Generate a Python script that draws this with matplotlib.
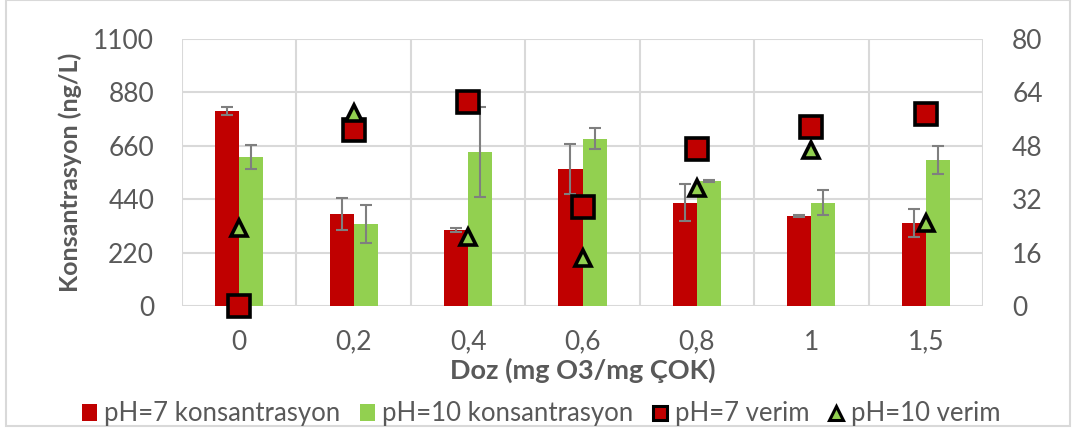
import matplotlib
matplotlib.use("Agg")
import matplotlib.pyplot as plt
import numpy as np
from matplotlib.lines import Line2D
from matplotlib.patches import Patch, Rectangle

categories = ["0", "0,2", "0,4", "0,6", "0,8", "1", "1,5"]
ph7_conc = [803, 378, 312, 563, 426, 371, 341]
ph7_err = [16, 65, 8, 103, 76, 3, 58]
ph10_conc = [613, 338, 633, 689, 515, 426, 600]
ph10_err = [50, 77, 185, 44, 3, 52, 58]
ph7_yield = [0, 52.7, 61, 29.6, 47, 53.7, 57.4]
ph10_yield = [23.3, 57.7, 20.8, 14.3, 35.3, 46.7, 24.8]
left_ticks = [0, 220, 440, 660, 880, 1100]
right_ticks = [0, 16, 32, 48, 64, 80]

plt.rcParams['font.family'] = ['Lato', 'DejaVu Sans']
RED = "#c00000"
GREEN = "#92d050"
GRID = "#d9d9d9"
TXT = "#595959"

fig = plt.figure(figsize=(10.77, 4.32), dpi=100)
ax = fig.add_axes([182/1077, 1-306/432, (983-182)/1077, (306-39)/432])
x = np.arange(len(categories))
w = 0.21
ax.bar(x - w/2, ph7_conc, w, color=RED, zorder=2, label="pH=7 konsantrasyon")
ax.bar(x + w/2, ph10_conc, w, color=GREEN, zorder=2, label="pH=10 konsantrasyon")
ax.errorbar(x - w/2, ph7_conc, yerr=ph7_err, fmt='none', ecolor="#7f7f7f", elinewidth=1.5, capsize=4, capthick=1.5, zorder=3)
ax.errorbar(x + w/2, ph10_conc, yerr=ph10_err, fmt='none', ecolor="#7f7f7f", elinewidth=1.5, capsize=4, capthick=1.5, zorder=3)
ax.set_xlim(-0.5, len(categories) - 0.5)
ax.set_ylim(0, 1100)
ax.set_yticks(left_ticks)
ax.set_xticks(x)
ax.set_xticklabels(categories)
ax.set_xticks(np.arange(len(categories) + 1) - 0.5, minor=True)
ax.grid(True, axis='y', color=GRID, linewidth=1.5, zorder=0)
ax.grid(True, axis='x', which='minor', color=GRID, linewidth=1.5, zorder=0)
ax.tick_params(axis='x', which='both', length=0, labelsize=19, labelcolor=TXT, pad=17)
ax.tick_params(axis='y', length=0, labelsize=19, labelcolor=TXT, pad=20)
for s in ax.spines.values():
    s.set_visible(False)
ax.set_ylabel("Konsantrasyon (ng/L)", fontsize=18, fontweight='bold', color=TXT)
ax.yaxis.set_label_coords(-0.125, 0.5)
ax.set_xlabel("Doz (mg O3/mg ÇOK)", fontsize=19.5, fontweight='bold', color=TXT)
ax.xaxis.set_label_coords(0.5, -0.195)

ax2 = ax.twinx()
ax2.set_ylim(0, 80)
ax2.set_yticks(right_ticks)
ax2.tick_params(axis='y', length=0, labelsize=19, labelcolor=TXT, pad=21)
for s in ax2.spines.values():
    s.set_visible(False)
ax2.plot(x, ph7_yield, linestyle='none', marker='s', markersize=15.5, markerfacecolor=RED,
         markeredgecolor='black', markeredgewidth=2.6, zorder=5, label="pH=7 verim", clip_on=False)
ax2.plot(x, ph10_yield, linestyle='none', marker='^', markersize=12, markerfacecolor=GREEN,
         markeredgecolor='black', markeredgewidth=2.6, zorder=5, label="pH=10 verim", clip_on=False)

handles = [
    Patch(facecolor=RED, label="pH=7 konsantrasyon"),
    Patch(facecolor=GREEN, label="pH=10 konsantrasyon"),
    Line2D([], [], linestyle='none', marker='s', markersize=10, markerfacecolor=RED,
           markeredgecolor='black', markeredgewidth=2.2, label="pH=7 verim"),
    Line2D([], [], linestyle='none', marker='^', markersize=10, markerfacecolor=GREEN,
           markeredgecolor='black', markeredgewidth=2.2, label="pH=10 verim"),
]
leg = fig.legend(handles=handles, loc='center', bbox_to_anchor=(541/1077, 1-414/432), ncol=4,
                 frameon=False, fontsize=18.5, handlelength=0.6, handleheight=0.6, handletextpad=0.27,
                 columnspacing=0.75, labelcolor=TXT, borderpad=0, borderaxespad=0)

fig.patches.append(Rectangle((6/1077, 1-426/432), (1070-6)/1077, 426/432, transform=fig.transFigure,
                             fill=False, edgecolor=GRID, linewidth=1.5))
fig.savefig("out.png", dpi=100)
